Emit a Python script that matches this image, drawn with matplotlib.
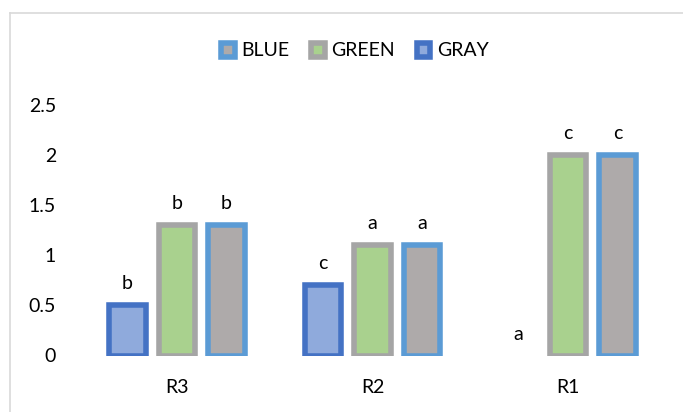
import numpy as np
import matplotlib
matplotlib.use('Agg')
import matplotlib.pyplot as plt
from matplotlib.lines import Line2D

plt.rcParams['font.family'] = ['Lato', 'DejaVu Sans']

cats = ['R3', 'R2', 'R1']
series = ['BLUE', 'GREEN', 'GRAY']
# bar order inside each group: GRAY, GREEN, BLUE
gray_vals = [0.5, 0.7, 0.0]
green_vals = [1.3, 1.1, 2.0]
blue_vals = [1.3, 1.1, 2.0]
gray_lbl = ['b', 'c', 'a']
green_lbl = ['b', 'a', 'c']
blue_lbl = ['b', 'a', 'c']

styles = {
    'GRAY':  ('#8faadc', '#4472c4'),
    'GREEN': ('#a9d18e', '#a5a5a5'),
    'BLUE':  ('#aeaaaa', '#5b9bd5'),
}

fig = plt.figure(figsize=(6.83, 4.12), dpi=100)
ax = fig.add_axes([79/683, 1-355.5/412, (666-79)/683, (355.5-105)/412])

x = np.arange(len(cats))
w, step = 0.187, 0.253
handles = {}
for k, (nm, vals, lbl) in enumerate([('GRAY', gray_vals, gray_lbl),
                                      ('GREEN', green_vals, green_lbl),
                                      ('BLUE', blue_vals, blue_lbl)]):
    fc, ec = styles[nm]
    xs = x + (k-1)*step
    lws = [4 if v > 0 else 0 for v in vals]   # excel draws nothing for a 0 bar
    bars = ax.bar(xs, vals, w, color=fc, edgecolor=ec, lw=lws, label=nm)
    handles[nm] = bars
    for xi, v, t in zip(xs, vals, lbl):
        ax.annotate(t, (xi, v), xytext=(0, 11.5), textcoords='offset points',
                    ha='center', va='baseline', fontsize=14, color='#000000')

ax.set_xlim(-0.5, 2.5); ax.set_ylim(0, 2.5)
ax.set_xticks(x); ax.set_xticklabels(cats)
ax.set_yticks([0, 0.5, 1, 1.5, 2, 2.5]); ax.set_yticklabels(['0', '0.5', '1', '1.5', '2', '2.5'])
ax.tick_params(axis='both', length=0, labelsize=14, colors='#000000')
ax.tick_params(axis='y', pad=16.5)
ax.tick_params(axis='x', pad=17)
for s in ax.spines.values(): s.set_visible(False)

leg = fig.legend([handles[s] for s in series], series, loc='center',
                 bbox_to_anchor=(355/683, 1-51/412), ncol=3, frameon=False,
                 fontsize=14, handlelength=0.7, handleheight=0.7,
                 handletextpad=0.35, columnspacing=1.1)
for h in leg.legend_handles: h.set_linewidth(4)

# chart-area border (only top/left visible in the crop)
fig.add_artist(Line2D([9.5/683, 9.5/683], [0, 1-12.5/412], color='#d9d9d9', lw=1.2))
fig.add_artist(Line2D([9.5/683, 1], [1-12.5/412, 1-12.5/412], color='#d9d9d9', lw=1.2))

fig.savefig('out.png', dpi=100)
